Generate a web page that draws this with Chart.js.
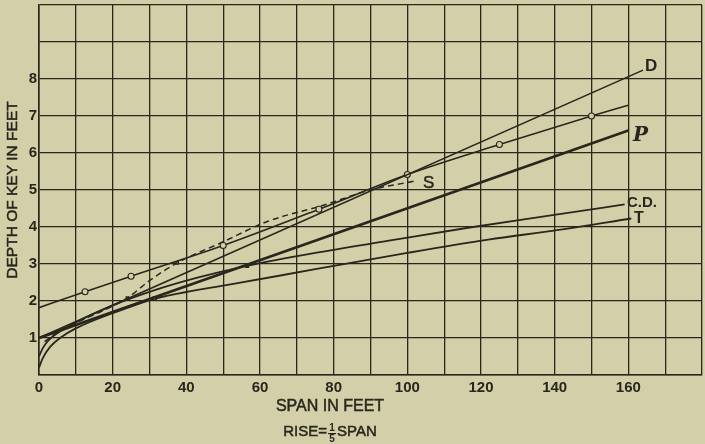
<!DOCTYPE html>
<html><head><meta charset="utf-8">
<script src="https://cdn.jsdelivr.net/npm/chart.js@4/dist/chart.umd.min.js"></script>
<style>html,body{margin:0;padding:0;background:#d3d0a9;}#wrap{width:705px;height:444px;position:relative}</style>
</head><body><div id="wrap"><canvas id="c" width="705" height="444"></canvas></div>
<script>
// ---- data ----
const xTickLabels = [0, 20, 40, 60, 80, 100, 120, 140, 160];
const yTickLabels = [1, 2, 3, 4, 5, 6, 7, 8];

const dSpan = [0, 164];
const dDepth = [1.0, 8.24];

const pSpan = [0, 160];
const pDepth = [1.0, 6.61];

const circSpan  = [0, 12.5, 25, 50, 76, 100, 125, 150, 160];
const circDepth = [1.82, 2.25, 2.67, 3.5, 4.48, 5.42, 6.23, 7.0, 7.29];

const sSpan  = [1.5, 6, 12, 17, 24, 30, 37.5, 50, 62, 77, 90, 102.5];
const sDepth = [0.9, 1.22, 1.5, 1.72, 2.08, 2.55, 3.03, 3.6, 4.15, 4.58, 5.0, 5.25];

const cdSpan  = [0, 1, 2.5, 5, 10, 20, 31, 43, 56.5, 75, 95, 116.5, 140.8, 159];
const cdDepth = [0.5, 0.72, 0.93, 1.13, 1.42, 1.88, 2.28, 2.63, 2.95, 3.3, 3.63, 3.98, 4.34, 4.61];

const tSpan  = [0, 1, 3, 6, 10, 20, 31.4, 42, 51.6, 75, 100, 122, 141, 160.8];
const tDepth = [0.2, 0.45, 0.76, 1.02, 1.26, 1.67, 2.06, 2.28, 2.44, 2.86, 3.3, 3.66, 3.92, 4.23];

// ---- styling ----
const INK = '#29271d';
const BG = '#d3d0a9';
const pts = (xs, ys) => xs.map((x, i) => ({x, y: ys[i]}));

function txt(c, s, x, y) {
  c.fillText(s, x, y);
  c.strokeText(s, x, y);
}

const bgPlugin = {
  id: 'bg',
  beforeDraw(chart) {
    const c = chart.ctx;
    c.save(); c.fillStyle = BG; c.fillRect(0, 0, chart.width, chart.height); c.restore();
  },
  afterDraw(chart) {
    const c = chart.ctx;
    c.save();
    c.fillStyle = INK;
    c.strokeStyle = INK;
    c.lineWidth = 0.5;
    c.textBaseline = 'middle';
    // series labels
    c.textAlign = 'left';
    c.font = 'bold 17px "Liberation Sans"';
    c.fillText('D', 645, 66);
    c.font = 'bold italic 20px "DejaVu Serif"';
    c.fillText('P', 633, 136);
    c.font = 'bold 15px "Liberation Sans"';
    c.fillText('C.D.', 627, 203);
    c.font = 'bold 16px "Liberation Sans"';
    c.fillText('T', 634, 219);
    c.font = '17px "Liberation Sans"';
    txt(c, 'S', 423, 183);
    // x title
    c.textAlign = 'center';
    c.font = '16px "Liberation Sans"';
    txt(c, 'SPAN IN FEET', 330, 407);
    // rise line with stacked fraction
    c.font = '15px "Liberation Sans"';
    const a = 'RISE=', b = 'SPAN';
    const wa = c.measureText(a).width, wb = c.measureText(b).width, wf = 10;
    let x0 = 330 - (wa + wf + wb) / 2;
    c.textAlign = 'left';
    txt(c, a, x0, 432);
    c.font = 'bold 10px "Liberation Sans"';
    c.textAlign = 'center';
    c.fillText('1', x0 + wa + wf / 2, 428);
    c.fillText('5', x0 + wa + wf / 2, 439);
    c.fillRect(x0 + wa + 1, 433, wf - 2, 1.2);
    c.font = '15px "Liberation Sans"';
    c.textAlign = 'left';
    txt(c, b, x0 + wa + wf, 432);
    // y title
    c.translate(13, 190);
    c.rotate(-Math.PI / 2);
    c.textAlign = 'center';
    c.font = '15.5px "Liberation Sans"';
    txt(c, 'DEPTH OF KEY IN FEET', 0, 0);
    c.restore();
  }
};

const lineDS = (label, xs, ys, extra) => Object.assign({
  label, data: pts(xs, ys), showLine: true, borderColor: INK, backgroundColor: INK,
  borderWidth: 1.6, pointRadius: 0, fill: false, tension: 0
}, extra || {});

new Chart(document.getElementById('c'), {
  type: 'scatter',
  data: {
    datasets: [
      lineDS('D', dSpan, dDepth),
      lineDS('P', pSpan, pDepth, {borderWidth: 2.6}),
      lineDS('circles', circSpan, circDepth, {
        cubicInterpolationMode: 'monotone',
        pointRadius: circSpan.map((x, i) => (i === 0 || i === circSpan.length - 1) ? 0 : 3),
        pointBackgroundColor: BG, pointBorderColor: INK, pointBorderWidth: 1.1
      }),
      lineDS('S', sSpan, sDepth, {borderDash: [6, 4], cubicInterpolationMode: 'monotone', borderWidth: 1.5,
        pointStyle: 'rect', pointRadius: sSpan.map(x => (x === 24 || x === 37.5) ? 1.6 : 0),
        pointBackgroundColor: BG, pointBorderColor: INK}),
      lineDS('C.D.', cdSpan, cdDepth, {cubicInterpolationMode: 'monotone', borderWidth: 1.8,
        pointStyle: 'rect', pointRadius: cdSpan.map(x => x === 56.5 ? 1.6 : 0),
        pointBackgroundColor: BG, pointBorderColor: INK}),
      lineDS('T', tSpan, tDepth, {cubicInterpolationMode: 'monotone', borderWidth: 1.8,
        pointStyle: 'rect', pointRadius: tSpan.map(x => x === 31.4 ? 2 : 0),
        pointBackgroundColor: BG, pointBorderColor: INK})
    ]
  },
  options: {
    responsive: false,
    devicePixelRatio: 1,
    animation: false,
    layout: {padding: {top: 5, right: 3, left: 0, bottom: 0}},
    plugins: {legend: {display: false}, tooltip: {enabled: false}},
    scales: {
      x: {
        type: 'linear', min: 0, max: 180,
        afterFit(s) { s.height = 69; s.paddingLeft = 0; s.paddingRight = 0; },
        grid: {color: INK, lineWidth: 1.3, drawTicks: false},
        border: {color: INK, width: 1.6},
        ticks: {stepSize: 10, autoSkip: false, maxRotation: 0, padding: 4, color: INK,
          font: {family: '"Liberation Sans"', size: 15, weight: 'bold'},
          callback: v => xTickLabels.includes(v) ? String(v) : ''}
      },
      y: {
        type: 'linear', min: 0, max: 10,
        afterFit(s) { s.width = 39; s.paddingTop = 0; s.paddingBottom = 0; },
        grid: {color: INK, lineWidth: 1.3, drawTicks: false},
        border: {color: INK, width: 1.6},
        ticks: {stepSize: 1, autoSkip: false, padding: 2, color: INK,
          font: {family: '"Liberation Sans"', size: 15, weight: 'bold'},
          callback: v => yTickLabels.includes(v) ? String(v) : ''}
      }
    }
  },
  plugins: [bgPlugin]
});
</script></body></html>
